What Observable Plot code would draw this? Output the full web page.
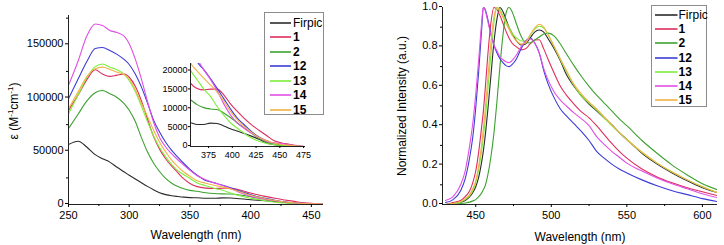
<!DOCTYPE html>
<html><head><meta charset="utf-8">
<script src="https://cdn.jsdelivr.net/npm/d3@7"></script>
<script src="https://cdn.jsdelivr.net/npm/@observablehq/plot@0.6"></script>
<style>
html,body{margin:0;padding:0;background:#fff;}
#root{position:relative;width:724px;height:245px;overflow:hidden;font-family:"Liberation Sans",Arial,sans-serif;color:#000;}
#root svg{position:absolute;overflow:visible;background:transparent;}
.legend{position:absolute;border:1px solid #8c8c8c;background:#fff;box-sizing:border-box;}
.lrow{position:absolute;font-size:12px;line-height:14px;white-space:nowrap;}
.title{position:absolute;font-size:12px;white-space:nowrap;line-height:14px;}
.title sup{font-size:8px;vertical-align:5px;line-height:0;}
</style></head><body><div id="root"></div>
<script>
// ---------- series ----------
const seriesNames = ["Firpic", "1", "2", "12", "13", "14", "15"];
const seriesColors = ["#2b2b2b", "#dd2d5e", "#3da12f", "#3c3cd6", "#7eee3c", "#e24fe4", "#f1b247"];

// ---------- absorption (left) ----------
const uvWavelength = [250, 258, 265, 272, 278, 284, 290, 296, 300, 305, 310, 315, 320, 325, 330, 335, 340, 345, 350, 356, 363, 370, 377, 384, 391, 398, 405, 412, 420, 428, 436, 444, 452, 460, 468, 476];
const uvFirpic = [56250, 59400, 54000, 46800, 43000, 39800, 35000, 30500, 27500, 24000, 20500, 17000, 13800, 11000, 9300, 8200, 7500, 6900, 6500, 6300, 5850, 5850, 6200, 6100, 5450, 4700, 4100, 3500, 2750, 1900, 950, 450, 250, 100, 40, 0];
const uv1 = [88400, 103000, 117000, 126500, 122500, 120300, 121500, 122500, 119500, 111000, 97500, 80500, 64000, 52000, 43000, 36000, 30000, 24000, 19800, 16800, 15400, 15000, 15200, 15200, 13700, 11300, 9350, 7600, 5800, 4300, 2900, 1500, 950, 600, 250, 0];
const uv2 = [71250, 85000, 97000, 105000, 107000, 104000, 100500, 94500, 88500, 78000, 63000, 49500, 39000, 31000, 24500, 20000, 16800, 14800, 13300, 12400, 11100, 10300, 9950, 9800, 8900, 7700, 6300, 5000, 3550, 2200, 1150, 600, 300, 150, 60, 0];
const uv12 = [99400, 118000, 134000, 146500, 147500, 144700, 141000, 136000, 131500, 122500, 110500, 95500, 79500, 68000, 58500, 50900, 44500, 38500, 33000, 27500, 22500, 20400, 18000, 15400, 12700, 10000, 7600, 5900, 4000, 2500, 1550, 800, 400, 180, 60, 0];
const uv13 = [85300, 103000, 119000, 129500, 132000, 129000, 126500, 122000, 116500, 106000, 92500, 78000, 64500, 53500, 44700, 37500, 31800, 28000, 24500, 20250, 17700, 15200, 13300, 10600, 8300, 6300, 4900, 3600, 2250, 1400, 800, 500, 330, 180, 60, 0];
const uv14 = [111900, 135000, 158000, 169500, 168000, 163500, 161500, 158000, 151000, 136500, 118000, 97000, 77500, 63000, 54000, 47500, 42000, 37000, 32000, 27000, 23300, 20300, 17800, 14800, 11300, 8400, 6300, 4900, 3550, 2350, 1350, 950, 750, 420, 130, 0];
const uv15 = [90000, 106000, 120000, 127500, 129000, 126800, 124200, 121800, 118100, 108000, 95000, 83000, 70000, 58500, 49500, 41600, 35500, 30500, 26500, 22200, 20000, 18100, 16300, 14400, 12000, 9300, 7200, 5400, 3800, 2400, 1600, 870, 550, 300, 100, 0];

const uvTicks = [250, 300, 350, 400, 450];
const uvMinorTicks = [275, 325, 375, 425];
const epsTicks = [0, 50000, 100000, 150000];
const epsMinorTicks = [25000, 75000, 125000, 175000];
const insetXTicks = [375, 400, 425, 450, 475];
const insetYTicks = [0, 5000, 10000, 15000, 20000];

// ---------- emission (right) ----------
const plWavelength = [430, 435, 440, 443, 446, 448, 450, 452, 454, 455, 456, 458, 460, 462, 464, 466, 468, 470, 472, 474, 477, 480, 483, 486, 489, 492, 495, 498, 502, 506, 510, 515, 520, 525, 530, 535, 540, 545, 550, 560, 570, 580, 590, 600, 610];
const plFirpic = [0, 0.005, 0.012, 0.02, 0.04, 0.06, 0.09, 0.14, 0.22, 0.27, 0.33, 0.48, 0.65, 0.82, 0.94, 1.0, 0.98, 0.94, 0.9, 0.87, 0.83, 0.81, 0.815, 0.845, 0.875, 0.886, 0.875, 0.84, 0.79, 0.73, 0.66, 0.6, 0.55, 0.51, 0.475, 0.44, 0.405, 0.365, 0.33, 0.26, 0.205, 0.16, 0.12, 0.085, 0.06];
const pl1 = [0, 0.01, 0.02, 0.04, 0.07, 0.11, 0.17, 0.27, 0.4, 0.47, 0.56, 0.76, 0.92, 1.0, 0.99, 0.96, 0.92, 0.88, 0.845, 0.82, 0.8, 0.785, 0.79, 0.815, 0.835, 0.836, 0.79, 0.735, 0.665, 0.6, 0.555, 0.51, 0.47, 0.44, 0.4, 0.355, 0.31, 0.27, 0.235, 0.18, 0.14, 0.11, 0.085, 0.065, 0.045];
const pl2 = [0, 0, 0.005, 0.008, 0.012, 0.018, 0.025, 0.04, 0.06, 0.075, 0.09, 0.15, 0.24, 0.36, 0.52, 0.7, 0.86, 0.97, 1.0, 0.98, 0.915, 0.855, 0.822, 0.82, 0.835, 0.85, 0.865, 0.87, 0.855, 0.815, 0.765, 0.705, 0.65, 0.6, 0.555, 0.515, 0.475, 0.435, 0.4, 0.325, 0.26, 0.2, 0.15, 0.105, 0.075];
const pl12 = [0.01, 0.025, 0.07, 0.13, 0.24, 0.34, 0.49, 0.68, 0.9, 1.0, 0.995, 0.94, 0.87, 0.81, 0.77, 0.74, 0.72, 0.705, 0.7, 0.71, 0.74, 0.79, 0.83, 0.845, 0.82, 0.77, 0.68, 0.61, 0.54, 0.485, 0.45, 0.41, 0.37, 0.325, 0.27, 0.235, 0.205, 0.18, 0.16, 0.125, 0.095, 0.07, 0.05, 0.03, 0.015];
const pl13 = [0, 0.005, 0.012, 0.025, 0.045, 0.07, 0.11, 0.18, 0.28, 0.34, 0.41, 0.58, 0.76, 0.92, 1.0, 0.99, 0.96, 0.93, 0.9, 0.87, 0.845, 0.83, 0.83, 0.86, 0.89, 0.905, 0.895, 0.86, 0.8, 0.735, 0.675, 0.605, 0.55, 0.515, 0.48, 0.44, 0.4, 0.365, 0.33, 0.265, 0.21, 0.165, 0.125, 0.09, 0.06];
const pl14 = [0.02, 0.04, 0.1, 0.17, 0.3, 0.41, 0.56, 0.74, 0.93, 1.0, 0.99, 0.93, 0.86, 0.81, 0.78, 0.75, 0.735, 0.725, 0.72, 0.73, 0.76, 0.8, 0.83, 0.84, 0.82, 0.77, 0.69, 0.63, 0.57, 0.53, 0.5, 0.465, 0.435, 0.4, 0.345, 0.305, 0.27, 0.24, 0.21, 0.17, 0.135, 0.105, 0.08, 0.055, 0.035];
const pl15 = [0, 0.005, 0.015, 0.03, 0.05, 0.08, 0.12, 0.2, 0.31, 0.38, 0.46, 0.64, 0.82, 0.95, 1.0, 0.98, 0.95, 0.92, 0.89, 0.86, 0.83, 0.815, 0.82, 0.86, 0.895, 0.915, 0.9, 0.86, 0.8, 0.74, 0.68, 0.61, 0.56, 0.52, 0.485, 0.445, 0.405, 0.365, 0.33, 0.265, 0.21, 0.165, 0.125, 0.09, 0.06];

const plTicks = [450, 500, 550, 600];
const plMinorTicks = [475, 525, 575];
const intTicks = [0, 0.2, 0.4, 0.6, 0.8, 1.0];
const intMinorTicks = [0.1, 0.3, 0.5, 0.7, 0.9];

// ---------- tables ----------
const uvValues = [uvFirpic, uv1, uv2, uv12, uv13, uv14, uv15];
const plValues = [plFirpic, pl1, pl2, pl12, pl13, pl14, pl15];
const uvData = seriesNames.flatMap((s, i) => uvWavelength.map((w, j) => ({series: s, wl: w, v: uvValues[i][j]})));
const plData = seriesNames.flatMap((s, i) => plWavelength.map((w, j) => ({series: s, wl: w, v: plValues[i][j]})));

const font = '"Liberation Sans", Arial, sans-serif';
const color = {domain: seriesNames, range: seriesColors};
const root = document.getElementById("root");
const blank = () => "";

function place(el, left, top) {
  el.style.left = left + "px";
  el.style.top = top + "px";
  root.appendChild(el);
}

// Left main panel
const left = Plot.plot({
  width: 345, height: 245, marginLeft: 68, marginRight: 22, marginTop: 15, marginBottom: 41,
  style: {fontFamily: font, fontSize: "11px", background: "transparent", color: "#000"},
  x: {domain: [250, 460]},
  y: {domain: [0, 177500]},
  color,
  marks: [
    Plot.line(uvData, {x: "wl", y: "v", z: "series", stroke: "series", strokeWidth: 1.1, curve: "monotone-x", clip: true}),
    Plot.ruleX([250], {stroke: "#222"}),
    Plot.ruleY([0], {stroke: "#222"}),
    Plot.axisX({ticks: uvTicks, tickSize: 3, tickPadding: 4, tickFormat: "d", label: null}),
    Plot.axisX({ticks: uvMinorTicks, tickSize: 2, tickFormat: blank, label: null}),
    Plot.axisY({ticks: epsTicks, tickSize: 3, tickPadding: 2, tickFormat: "d", label: null, dy: -1}),
    Plot.axisY({ticks: epsMinorTicks, tickSize: 2, tickFormat: blank, label: null})
  ]
});
place(left, 0, 0);

// Inset
const inset = Plot.plot({
  width: 160, height: 106, marginLeft: 40, marginRight: 5, marginTop: 5, marginBottom: 18,
  style: {fontFamily: font, fontSize: "9px", background: "transparent", color: "#000"},
  x: {domain: [356, 477]},
  y: {domain: [0, 22000]},
  color,
  marks: [
    Plot.line(uvData, {x: "wl", y: "v", z: "series", stroke: "series", strokeWidth: 1.1, curve: "monotone-x", clip: true}),
    Plot.ruleX([356], {stroke: "#222"}),
    Plot.ruleY([0], {stroke: "#222"}),
    Plot.axisX({ticks: insetXTicks, tickSize: 2, tickPadding: 3, tickFormat: "d", label: null}),
    Plot.axisY({ticks: insetYTicks, tickSize: 2, tickPadding: 1, tickFormat: "d", label: null, dy: -1})
  ]
});
place(inset, 150, 58);

// Right panel
const right = Plot.plot({
  width: 354, height: 245, marginLeft: 72, marginRight: 7, marginTop: 7, marginBottom: 41,
  style: {fontFamily: font, fontSize: "11px", background: "transparent", color: "#000"},
  x: {domain: [428, 610]},
  y: {domain: [0, 1]},
  color,
  marks: [
    Plot.line(plData, {x: "wl", y: "v", z: "series", stroke: "series", strokeWidth: 1.1, curve: "monotone-x", clip: true}),
    Plot.ruleX([428], {stroke: "#222"}),
    Plot.ruleY([0], {stroke: "#222"}),
    Plot.axisX({ticks: plTicks, tickSize: 3, tickPadding: 4, tickFormat: "d", label: null}),
    Plot.axisX({ticks: plMinorTicks, tickSize: 2, tickFormat: blank, label: null}),
    Plot.axisY({ticks: intTicks, tickSize: 3, tickPadding: 2, tickFormat: ".1f", label: null, dy: -1}),
    Plot.axisY({ticks: intMinorTicks, tickSize: 2, tickFormat: blank, label: null})
  ]
});
place(right, 370, 0);

// Axis titles
function title(html, cx, cy, rotate) {
  const d = document.createElement("div");
  d.className = "title";
  d.innerHTML = html;
  d.style.left = cx + "px";
  d.style.top = cy + "px";
  d.style.transform = "translate(-50%,-50%)" + (rotate ? " rotate(-90deg)" : "");
  root.appendChild(d);
}
title("Wavelength (nm)", 196, 235, false);
title("ε (M<sup>-1</sup>cm<sup>-1</sup>)", 13.5, 111, true);
title("Wavelength (nm)", 580, 236.5, false);
title("Normalized Intensity (a.u.)", 402, 106, true);

// Legends
function legend(x, y, w, h, row0, step, l0, l1, tx) {
  const box = document.createElement("div");
  box.className = "legend";
  Object.assign(box.style, {left: x + "px", top: y + "px", width: w + "px", height: h + "px"});
  seriesNames.forEach((name, i) => {
    const cy = row0 + i * step;
    const ln = document.createElementNS("http://www.w3.org/2000/svg", "svg");
    ln.setAttribute("width", l1 - l0);
    ln.setAttribute("height", 4);
    Object.assign(ln.style, {position: "absolute", left: l0 + "px", top: (cy - 2) + "px", overflow: "visible"});
    const line = document.createElementNS("http://www.w3.org/2000/svg", "line");
    line.setAttribute("x1", 0); line.setAttribute("x2", l1 - l0);
    line.setAttribute("y1", 2); line.setAttribute("y2", 2);
    line.setAttribute("stroke", seriesColors[i]);
    line.setAttribute("stroke-width", 1.6);
    ln.appendChild(line);
    box.appendChild(ln);
    const t = document.createElement("div");
    t.className = "lrow";
    t.textContent = name;
    t.style.left = tx + "px";
    t.style.top = (cy - 7) + "px";
    if (name !== "Firpic") t.style.fontWeight = "bold";
    box.appendChild(t);
  });
  root.appendChild(box);
}
legend(264, 12, 60, 103, 9.5, 14.5, 4.5, 25.5, 28);
legend(651, 5, 56, 102, 9, 14.2, 3, 25.5, 26.5);
</script>
</body></html>
